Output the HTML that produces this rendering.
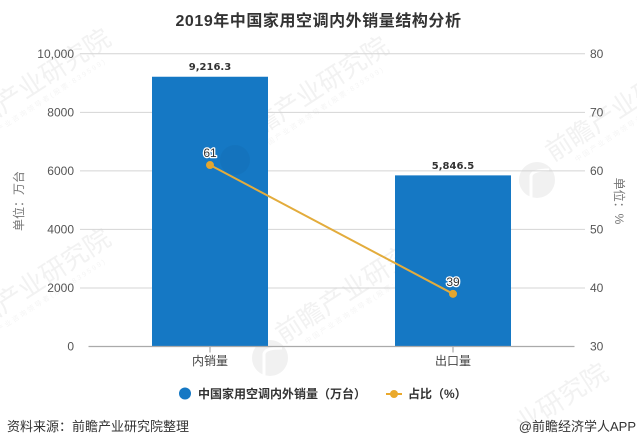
<!DOCTYPE html>
<html lang="zh">
<head>
<meta charset="utf-8">
<title>2019年中国家用空调内外销量结构分析</title>
<style>
html,body{margin:0;padding:0;background:#fff;width:637px;height:447px;overflow:hidden}
svg{display:block;overflow:hidden;font-family:"Liberation Sans","Noto Sans CJK SC",sans-serif}
</style>
</head>
<body>
<svg id="chart" width="637" height="447" viewBox="0 0 637 447">
  <g id="watermarks-under"></g>
  <text x="318.5" y="26" text-anchor="middle" font-size="16" font-weight="700" letter-spacing="0.55" fill="#333">2019年中国家用空调内外销量结构分析</text>
  <g id="grid"></g>
  <g id="bars"></g>
  <g id="axes"></g>
  <circle cx="235" cy="160" r="15" fill="#000" fill-opacity="0.035"></circle>
  <g id="line"></g>
  <text transform="translate(23,201) rotate(-90)" text-anchor="middle" font-size="12" fill="#777">单位：万台</text>
  <text transform="translate(615,201) rotate(90)" text-anchor="middle" font-size="12" fill="#777">单位：%</text>
  <g>
    <g>
      <circle cx="185" cy="393.5" r="6" fill="#1578c4"></circle>
      <text x="198" y="398" font-size="12" font-weight="700" fill="#333">中国家用空调内外销量（万台）</text>
    </g>
    <g>
      <line x1="386" y1="394" x2="402" y2="394" stroke="#eaa92c" stroke-width="2"></line>
      <circle cx="394" cy="394" r="4" fill="#eaa92c"></circle>
      <text x="408" y="398" font-size="12" font-weight="700" fill="#333">占比（%）</text>
    </g>
  </g>
  <text x="7" y="431" font-size="13" fill="#333">资料来源：前瞻产业研究院整理</text>
  <text x="636" y="431" text-anchor="end" font-size="13" fill="#333">@前瞻经济学人APP</text>
</svg>
<script>
var categories = ['内销量', '出口量'];
var salesValues = [9216.3, 5846.5];
var salesLabels = ['9,216.3', '5,846.5'];
var shareValues = [61, 39];
var leftTicks = [0, 2000, 4000, 6000, 8000, 10000];
var leftTickLabels = ['0', '2000', '4000', '6000', '8000', '10,000'];
var rightTicks = [30, 40, 50, 60, 70, 80];

var NS = 'http://www.w3.org/2000/svg';
var plotLeft = 88.5, plotRight = 574.5, plotTop = 53.8, plotBottom = 346.5;
var barWidth = 116;
function yLeft(v) { return plotBottom - (v - 0) / (10000 - 0) * (plotBottom - plotTop); }
function yRight(v) { return plotBottom - (v - 30) / (80 - 30) * (plotBottom - plotTop); }
function xCat(i) { return plotLeft + (i + 0.5) * (plotRight - plotLeft) / categories.length; }
function mk(tag, attrs, parent, txt) {
  var el = document.createElementNS(NS, tag);
  for (var k in attrs) el.setAttribute(k, attrs[k]);
  if (txt !== undefined) el.textContent = txt;
  parent.appendChild(el);
  return el;
}
var gridG = document.getElementById('grid');
var barsG = document.getElementById('bars');
var axesG = document.getElementById('axes');
var lineG = document.getElementById('line');
var underG = document.getElementById('watermarks-under');

var marks = [[-40,142],[238,150],[-40,342],[283,344],[553,162]];
marks.forEach(function (m) {
  var wm = mk('g', {transform: 'translate(' + m[0] + ',' + m[1] + ') rotate(-33)'}, underG);
  
  
  mk('text', {x: 0, y: 0, 'font-size': 26, 'font-weight': 400, fill: '#f2f2f2'}, wm, '前瞻产业研究院');
  mk('text', {x: 20, y: 13, 'font-size': 7, fill: '#f5f5f5', 'letter-spacing': 2}, wm, '中国产业咨询领导者(股票:839599)');
});
var lastMark = mk('text', {transform: 'translate(523,434) rotate(-33)', 'font-size': 26, fill: '#f2f2f2'}, underG, '业研究院');


[[270,358],[537,180]].forEach(function (c) {
  var logo = mk('circle', {cx: c[0], cy: c[1], r: 18, fill: '#f1f1f1'}, underG);
  
  
  var notch = mk('path', {d: 'M' + (c[0] - 6) + ' ' + (c[1] + 18) + 'V' + (c[1] - 4) + 'Q' + (c[0] - 5) + ' ' + (c[1] - 10) + ' ' + (c[0] + 12) + ' ' + (c[1] - 10), fill: 'none', stroke: '#fff', 'stroke-width': 3}, underG);
  
  
});

leftTicks.forEach(function (t, i) {
  var y = yLeft(t);
  if (t !== 0) {
    var g = mk('line', {x1: 80, x2: 585, y1: y, y2: y, stroke: '#d4d4d4', 'stroke-width': 1}, gridG);
    
    
  }
  var lt = mk('text', {x: 74, y: y + 4, 'text-anchor': 'end', 'font-size': 12, fill: '#555'}, axesG, leftTickLabels[i]);
  
  
});
rightTicks.forEach(function (t) {
  var rt = mk('text', {x: 590, y: yRight(t) + 4, 'font-size': 12, fill: '#555'}, axesG, String(t));
  
  
});

categories.forEach(function (c, i) {
  var x = xCat(i), top = yLeft(salesValues[i]);
  var bar = mk('rect', {x: x - barWidth / 2, y: top, width: barWidth, height: plotBottom - top, fill: '#1578c4'}, barsG);
  
  
  var lab = mk('text', {x: x, y: top - 6.5, 'text-anchor': 'middle', 'font-size': 10, 'font-weight': 700, fill: '#333', 'font-family': '"DejaVu Sans",sans-serif'}, barsG, salesLabels[i]);
  
  
  var tick = mk('line', {x1: x, x2: x, y1: plotBottom, y2: plotBottom + 6, stroke: '#999', 'stroke-width': 1}, axesG);
  
  
  var cl = mk('text', {x: x, y: 365, 'text-anchor': 'middle', 'font-size': 12, fill: '#444'}, axesG, c);
  
  
});
var axis = mk('line', {x1: plotLeft, x2: plotRight, y1: plotBottom, y2: plotBottom, stroke: '#aaa', 'stroke-width': 1.2}, axesG);



var pts = shareValues.map(function (v, i) { return xCat(i) + ',' + yRight(v); }).join(' ');
var pl = mk('polyline', {points: pts, fill: 'none', stroke: '#e3ac3c', 'stroke-width': 2}, lineG);


shareValues.forEach(function (v, i) {
  var x = xCat(i), y = yRight(v);
  var d = mk('circle', {cx: x, cy: y, r: 4, fill: '#e3a62f'}, lineG);
  
  
  var t = mk('text', {x: x, y: y - 8, 'text-anchor': 'middle', 'font-size': 12, fill: '#333', stroke: '#fff', 'stroke-width': 2.5, 'paint-order': 'stroke', 'stroke-linejoin': 'round'}, lineG, String(v));
  
  
});
</script>
</body>
</html>
